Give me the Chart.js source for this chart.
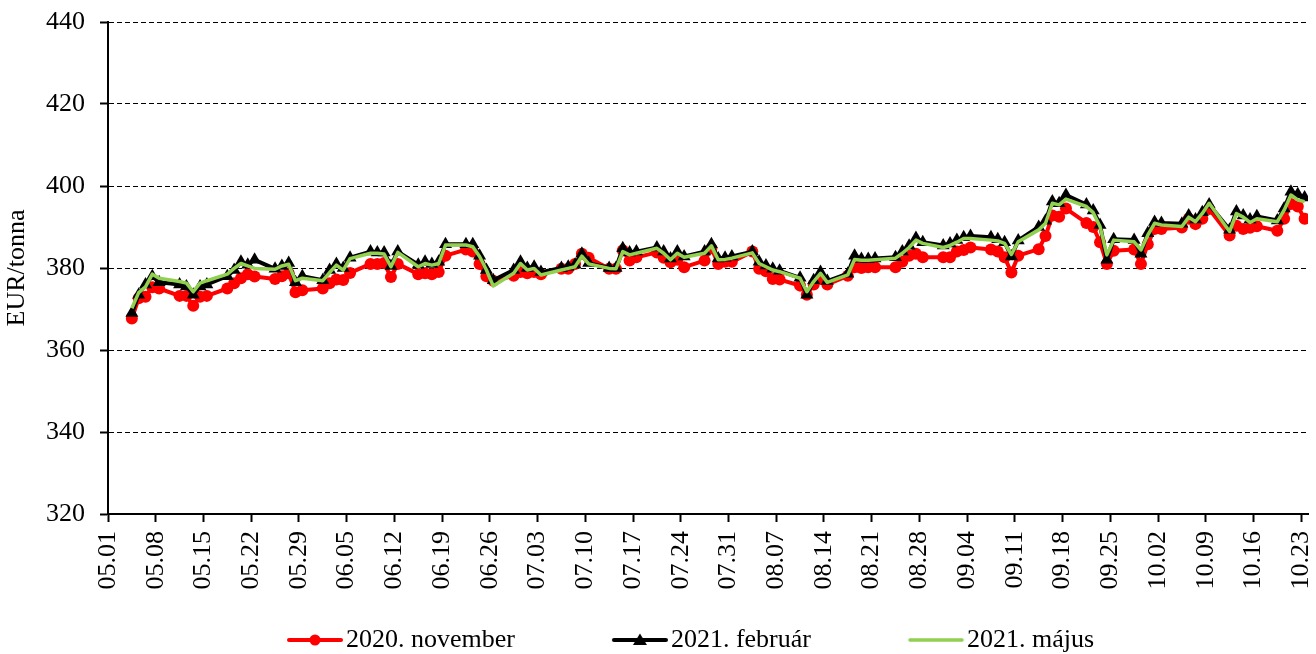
<!DOCTYPE html>
<html>
<head>
<meta charset="utf-8">
<script src="https://cdn.jsdelivr.net/npm/chart.js@4.4.1/dist/chart.umd.min.js"></script>
<style>
  html, body { margin: 0; padding: 0; background: #ffffff; }
  #c { display: block; }
</style>
</head>
<body>
<canvas id="c" width="1316" height="654"></canvas>
<script>
// ---- DATA ----
const dates = [
  '05.04','05.05','05.06','05.07','05.08','05.11','05.12','05.13','05.14','05.15',
  '05.18','05.19','05.20','05.21','05.22','05.25','05.26','05.27','05.28','05.29',
  '06.01','06.02','06.03','06.04','06.05','06.08','06.09','06.10','06.11','06.12',
  '06.15','06.16','06.17','06.18','06.19','06.22','06.23','06.24','06.25','06.26',
  '06.29','06.30',
  '07.01','07.02','07.03','07.06','07.07','07.08','07.09','07.10','07.13','07.14',
  '07.15','07.16','07.17','07.20','07.21','07.22','07.23','07.24','07.27','07.28',
  '07.29','07.30','07.31',
  '08.03','08.04','08.05','08.06','08.07','08.10','08.11','08.12','08.13','08.14',
  '08.17','08.18','08.19','08.20','08.21','08.24','08.25','08.26','08.27','08.28',
  '08.31',
  '09.01','09.02','09.03','09.04','09.07','09.08','09.09','09.10','09.11','09.14',
  '09.15','09.16','09.17','09.18','09.21','09.22','09.23','09.24','09.25','09.28',
  '09.29','09.30',
  '10.01','10.02','10.05','10.06','10.07','10.08','10.09','10.12','10.13','10.14',
  '10.15','10.16','10.19','10.20','10.21','10.22','10.23'
];

const nov2020 = [
  367.7,372.6,373.0,375.3,375.0,373.2,373.2,370.8,373.0,373.2,
  375.0,376.3,377.5,378.5,377.9,377.3,378.0,378.7,374.1,374.6,
  375.0,376.3,377.2,377.1,378.8,381.0,381.0,381.2,377.8,381.0,
  378.5,378.7,378.5,379.0,383.0,384.5,384.0,381.0,378.0,376.9,
  378.1,379.0,
  378.7,379.0,378.5,379.8,379.8,381.0,383.5,382.5,379.8,379.8,
  384.3,381.8,382.6,383.8,382.5,381.4,382.0,380.2,381.8,384.8,
  381.0,381.5,381.5,
  384.0,379.8,379.2,377.3,377.2,375.7,373.5,376.0,377.3,376.0,
  378.1,380.2,380.0,380.2,380.2,380.2,381.5,383.0,383.5,382.6,
  382.6,
  382.6,384.0,384.4,385.0,384.5,384.0,382.6,378.9,383.0,384.6,
  387.8,392.8,392.5,394.5,391.0,390.0,386.3,381.0,384.2,384.5,
  381.0,385.8,
  389.5,389.5,389.9,392.0,390.7,392.0,394.4,387.9,390.3,389.5,
  389.8,390.2,389.1,392.0,395.6,395.0,392.0
];

const feb2021 = [
  369.0,373.5,376.0,378.0,376.5,376.0,375.5,373.5,375.5,376.0,
  378.0,379.5,381.5,380.8,382.0,379.8,380.5,381.2,376.5,378.0,
  377.0,379.5,381.0,380.0,382.5,384.0,383.8,383.8,380.5,384.0,
  380.8,381.5,381.0,381.5,385.8,385.8,385.8,383.0,379.5,377.0,
  379.5,381.5,
  380.0,380.3,379.0,380.0,380.3,380.8,383.5,381.2,380.0,380.0,
  384.8,383.8,384.0,385.0,384.0,382.3,384.0,382.8,384.0,385.8,
  382.3,382.5,382.8,
  384.0,381.5,380.6,379.8,379.3,377.6,373.5,377.0,379.0,376.8,
  378.6,383.0,382.2,382.2,382.3,382.6,384.0,385.4,387.3,386.3,
  385.5,
  386.0,386.8,387.5,387.8,387.5,387.0,386.3,382.8,386.7,390.0,
  391.5,396.2,395.8,397.8,395.5,394.0,390.5,382.0,387.0,386.8,
  383.5,388.5,
  391.2,391.0,390.8,392.8,391.8,393.6,395.5,389.3,393.8,392.8,
  391.8,392.6,391.6,394.5,398.6,398.0,397.2
];

const may2021 = [
  370.2,374.0,375.4,378.5,377.5,376.7,376.3,374.2,376.3,376.9,
  378.5,379.9,381.1,380.5,379.9,379.7,380.5,380.9,376.9,377.5,
  376.9,378.9,380.7,379.5,382.3,383.6,383.6,383.4,380.3,383.8,
  380.3,381.1,380.7,381.1,385.6,385.6,385.2,382.8,379.5,375.6,
  378.7,381.1,
  379.5,379.9,378.3,379.5,379.9,380.3,382.9,381.0,379.9,379.8,
  384.0,383.2,383.6,384.8,383.6,382.0,383.6,382.6,383.6,385.4,
  382.0,382.1,382.4,
  383.7,381.1,380.3,379.5,379.1,377.5,374.2,376.7,378.7,376.5,
  378.3,382.1,381.9,381.9,382.0,382.4,383.6,385.0,386.8,386.0,
  385.0,
  385.5,386.3,387.2,387.2,386.8,386.6,386.0,383.3,386.4,389.3,
  390.9,395.8,395.4,396.8,395.0,393.5,390.1,383.2,386.8,386.4,
  384.4,388.0,
  390.9,390.5,390.1,392.4,391.3,393.3,395.8,388.9,393.3,392.4,
  391.1,392.0,391.3,394.1,397.8,396.6,396.2
];

const tickLabels = [
  '05.01','05.08','05.15','05.22','05.29','06.05','06.12','06.19','06.26',
  '07.03','07.10','07.17','07.24','07.31','08.07','08.14','08.21','08.28',
  '09.04','09.11','09.18','09.25','10.02','10.09','10.16','10.23'
];

const seriesNames = ['2020. november', '2021. február', '2021. május'];
const yTitle = 'EUR/tonna';

// ---- helpers ----
const YEAR = 2020;
function dayIndex(s) {
  const [m, d] = s.split('.').map(Number);
  return (Date.UTC(YEAR, m - 1, d) - Date.UTC(YEAR, 4, 1)) / 86400000;
}
// each trading day sits in the middle of its calendar day (date axis)
function toPoints(values) {
  return values.map((v, i) => ({ x: dayIndex(dates[i]) + 0.5, y: v }));
}
const tickMap = {};
tickLabels.forEach(t => { tickMap[dayIndex(t)] = t; });
const xMax = dayIndex(tickLabels[tickLabels.length - 1]) + 1;

const FONT = 'Liberation Serif, Times New Roman, serif';
const RED = '#ff0000', BLACK = '#000000', GREEN = '#92d050';

// legend swatches (line + marker)
const SW_BOX = 143, SW_W = SW_BOX + 20, SW_H = 16, SW_LINE = 56;
function swatch(color, lw, marker) {
  const cv = document.createElement('canvas');
  cv.width = SW_W; cv.height = SW_H;
  const g = cv.getContext('2d');
  const x1 = SW_W - SW_LINE, x2 = SW_W, cy = SW_H / 2, cx = (x1 + x2) / 2;
  g.strokeStyle = color; g.lineWidth = lw; g.lineCap = 'round';
  g.beginPath(); g.moveTo(x1 + 2, cy); g.lineTo(x2 - 2, cy); g.stroke();
  g.fillStyle = color;
  if (marker === 'circle') {
    g.beginPath(); g.arc(cx, cy, 5.5, 0, Math.PI * 2); g.fill();
  } else if (marker === 'triangle') {
    g.beginPath(); g.moveTo(cx, cy - 6.5); g.lineTo(cx + 7, cy + 5); g.lineTo(cx - 7, cy + 5); g.closePath(); g.fill();
  }
  return cv;
}
const legendImgs = [swatch(RED, 4, 'circle'), swatch(BLACK, 4, 'triangle'), swatch(GREEN, 3.5, null)];

const legendShift = {
  id: 'legendShift',
  afterLayout(chart) {
    if (chart.legend) { chart.legend.left -= 12; chart.legend.right -= 12; }
  }
};

Chart.defaults.font.family = FONT;
Chart.defaults.color = '#000';

new Chart(document.getElementById('c'), {
  type: 'line',
  plugins: [legendShift],
  data: {
    datasets: [
      {
        label: seriesNames[0], data: toPoints(nov2020), order: 3,
        borderColor: RED, backgroundColor: RED, borderWidth: 4,
        pointStyle: 'circle', pointRadius: 6, pointBorderWidth: 0,
        pointBackgroundColor: RED, pointBorderColor: RED,
        borderJoinStyle: 'round', tension: 0
      },
      {
        label: seriesNames[1], data: toPoints(feb2021), order: 2,
        borderColor: BLACK, backgroundColor: BLACK, borderWidth: 4,
        pointStyle: 'triangle', pointRadius: 7.5, pointBorderWidth: 0,
        pointBackgroundColor: BLACK, pointBorderColor: BLACK,
        borderJoinStyle: 'round', tension: 0
      },
      {
        label: seriesNames[2], data: toPoints(may2021), order: 1,
        borderColor: GREEN, backgroundColor: GREEN, borderWidth: 3.5,
        pointRadius: 0, borderJoinStyle: 'round', tension: 0
      }
    ]
  },
  options: {
    responsive: false,
    animation: false,
    devicePixelRatio: 1,
    layout: { padding: { left: 0, right: 8, top: 22, bottom: 0 } },
    plugins: {
      tooltip: { enabled: false },
      legend: {
        position: 'bottom',
        maxHeight: 27,
        labels: {
          usePointStyle: true,
          pointStyleWidth: SW_BOX,
          padding: 0,
          color: '#000',
          font: { family: FONT, size: 26 },
          sort: (a, b) => a.datasetIndex - b.datasetIndex,
          generateLabels: (chart) => {
            const items = Chart.defaults.plugins.legend.labels.generateLabels(chart);
            items.forEach(it => { it.pointStyle = legendImgs[it.datasetIndex]; });
            return items;
          }
        }
      }
    },
    scales: {
      x: {
        type: 'linear',
        min: 0,
        max: xMax,
        afterBuildTicks: (axis) => {
          axis.ticks = tickLabels.map(t => ({ value: dayIndex(t) }));
        },
        afterFit: (axis) => { axis.height = 113; axis.paddingLeft = 0; axis.paddingRight = 0; },
        ticks: {
          autoSkip: false,
          minRotation: 90,
          maxRotation: 90,
          padding: 9,
          color: '#000',
          font: { family: FONT, size: 26 },
          callback: (v) => tickMap[v] ?? ''
        },
        grid: {
          drawOnChartArea: false,
          drawTicks: true,
          tickLength: 8,
          tickColor: '#000',
          tickWidth: 2,
          color: '#000'
        },
        border: { display: true, color: '#000', width: 2 }
      },
      y: {
        min: 320,
        max: 440,
        afterFit: (axis) => { axis.width = 108; axis.paddingTop = 0; axis.paddingBottom = 0; },
        ticks: {
          stepSize: 20,
          padding: 15,
          color: '#000',
          font: { family: FONT, size: 26 }
        },
        grid: {
          color: '#000',
          lineWidth: 1,
          drawTicks: true,
          tickLength: 8,
          tickColor: '#000',
          tickWidth: 2
        },
        border: { display: true, color: '#000', width: 2, dash: [5, 3] },
        title: {
          display: true,
          text: yTitle,
          color: '#000',
          font: { family: FONT, size: 26 },
          padding: { top: 2, bottom: 0 }
        }
      }
    }
  }
});
</script>
</body>
</html>
